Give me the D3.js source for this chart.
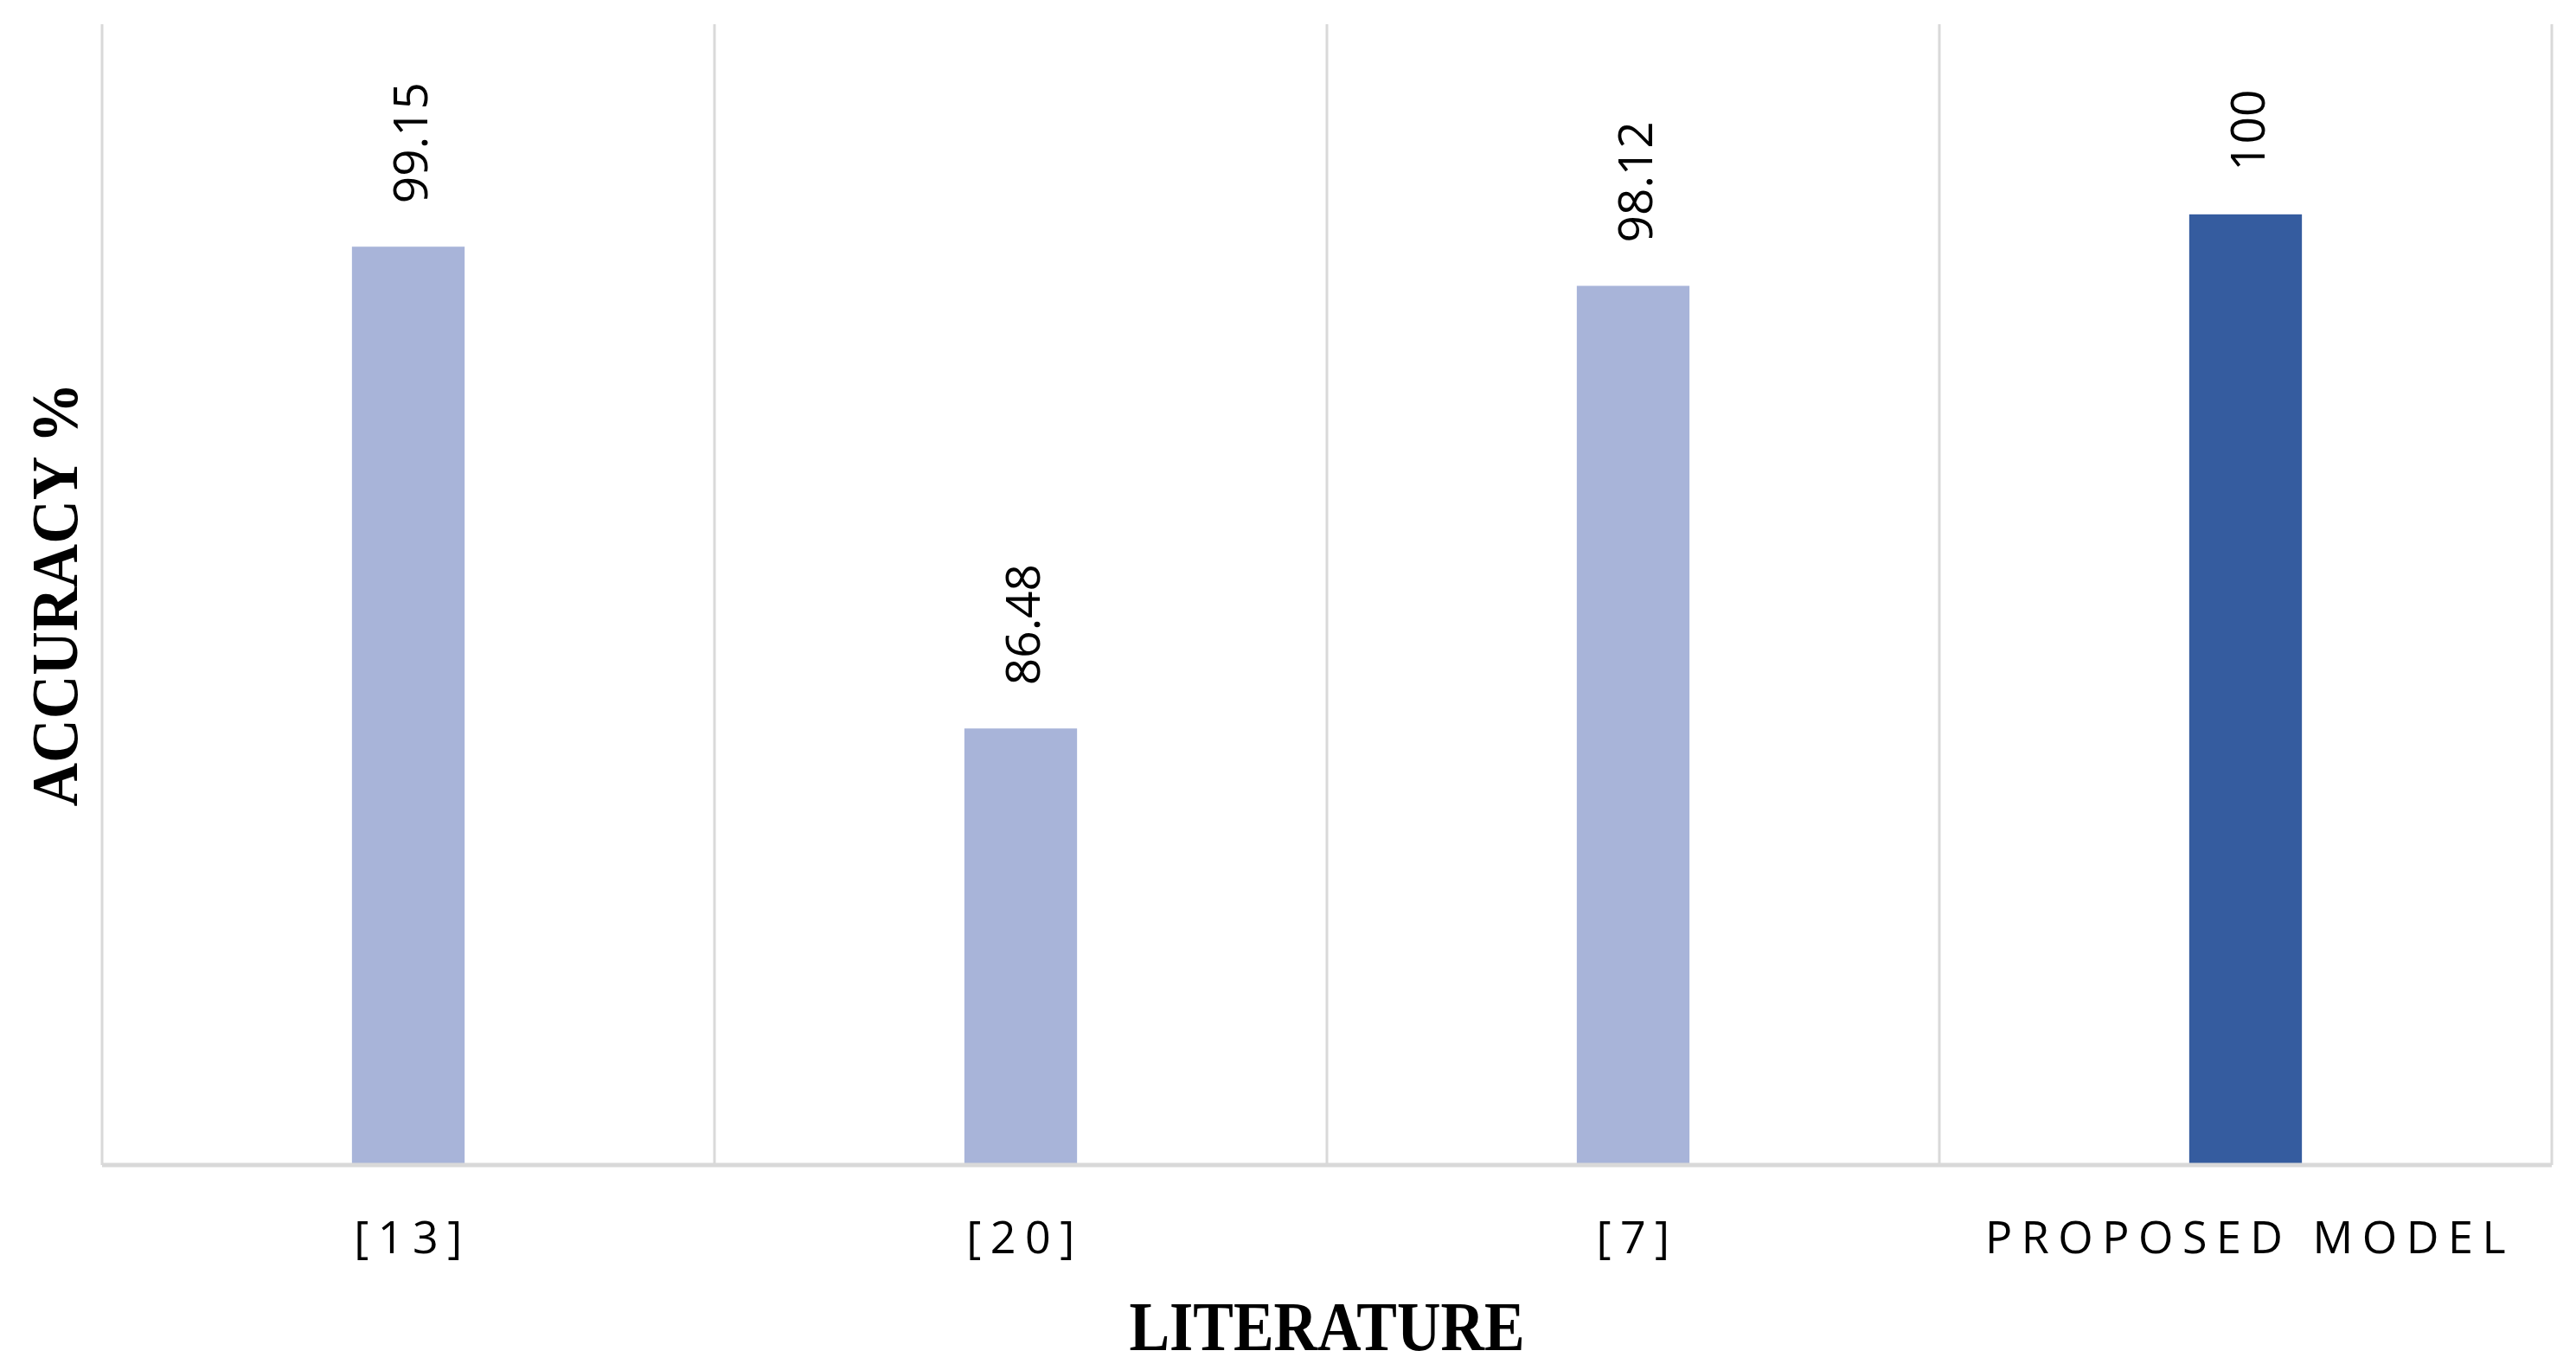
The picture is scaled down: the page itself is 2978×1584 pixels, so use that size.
<!DOCTYPE html>
<html>
<head>
<meta charset="utf-8">
<script src="https://cdn.jsdelivr.net/npm/d3@7"></script>
<style>
  html, body { margin: 0; padding: 0; background: #fff; }
  svg { display: block; }
</style>
</head>
<body>
<div id="chart"></div>
<script>
var w = 2978;
var h = 1584;

// data
var categories = ["[13]", "[20]", "[7]", "PROPOSED MODEL"];
var accuracy = [99.15, 86.48, 98.12, 100];
var labels = ["99.15", "86.48", "98.12", "100"];
var highlight = [false, false, false, true];

var plotLeft = 118, plotRight = 2950, plotTop = 28, plotBottom = 1347;

var xScale = d3.scaleBand()
    .domain(categories)
    .range([plotLeft, plotRight])
    .padding(0);

var yScale = d3.scaleLinear()
    .domain([75, 105])
    .range([plotBottom, plotTop]);

var barW = xScale.bandwidth() * 0.184;

var svg = d3.select("#chart")
    .append("svg")
    .attr("width", w)
    .attr("height", h);

// vertical gridlines at category edges
var edges = categories.map(function (d) { return xScale(d); });
edges.push(xScale.range()[1]);

svg.append("g")
    .selectAll("line")
    .data(edges)
    .enter().append("line")
    .attr("x1", function (d) { return d; })
    .attr("x2", function (d) { return d; })
    .attr("y1", yScale(105))
    .attr("y2", yScale(75))
    .attr("stroke", "#d9d9d9")
    .attr("stroke-width", 3);

// bars
var data = categories.map(function (c, i) {
    return { cat: c, value: accuracy[i], label: labels[i], hi: highlight[i] };
});

svg.append("g")
    .selectAll("rect")
    .data(data)
    .enter().append("rect")
    .attr("x", function (d) { return xScale(d.cat) + xScale.bandwidth() / 2 - barW / 2; })
    .attr("y", function (d) { return yScale(d.value); })
    .attr("width", barW)
    .attr("height", function (d) { return yScale(75) - yScale(d.value); })
    .attr("fill", function (d) { return d.hi ? "#355c9f" : "#a8b4d9"; });

// bottom axis line
svg.append("line")
    .attr("x1", plotLeft)
    .attr("x2", plotRight)
    .attr("y1", yScale(75))
    .attr("y2", yScale(75))
    .attr("stroke", "#d9d9d9")
    .attr("stroke-width", 5);

// value labels, rotated
svg.append("g")
    .selectAll("text")
    .data(data)
    .enter().append("text")
    .attr("transform", function (d) {
        var cx = xScale(d.cat) + xScale.bandwidth() / 2;
        return "translate(" + cx + "," + (yScale(d.value) - 50) + ") rotate(-90)";
    })
    .attr("text-anchor", "start")
    .attr("dominant-baseline", "central")
    .style("font-family", "'Open Sans', sans-serif")
    .style("font-size", "55px")
    .attr("fill", "#000")
    .text(function (d) { return d.label; });

// category labels
var xAxis = d3.axisBottom(xScale).tickSize(0).tickPadding(0);
var gx = svg.append("g")
    .attr("transform", "translate(0," + 1449 + ")")
    .call(xAxis);
gx.select(".domain").remove();
gx.selectAll("text")
    .attr("dy", null)
    .attr("y", 0)
    .attr("dx", "5px")
    .style("font-family", "'Open Sans', sans-serif")
    .style("font-size", "52px")
    .style("letter-spacing", "10.5px")
    .attr("fill", "#000");

// axis titles
svg.append("text")
    .attr("x", (plotLeft + plotRight) / 2)
    .attr("y", 1561)
    .attr("text-anchor", "middle")
    .attr("textLength", 457)
    .attr("lengthAdjust", "spacingAndGlyphs")
    .style("font-family", "'Liberation Serif', serif")
    .style("font-weight", "bold")
    .style("font-size", "80px")
    .text("LITERATURE");

svg.append("text")
    .attr("transform", "translate(89," + (plotTop + plotBottom) / 2 + ") rotate(-90)")
    .attr("text-anchor", "middle")
    .attr("textLength", 490)
    .attr("lengthAdjust", "spacingAndGlyphs")
    .style("font-family", "'Liberation Serif', serif")
    .style("font-weight", "bold")
    .style("font-size", "76px")
    .text("ACCURACY %");
</script>
</body>
</html>
